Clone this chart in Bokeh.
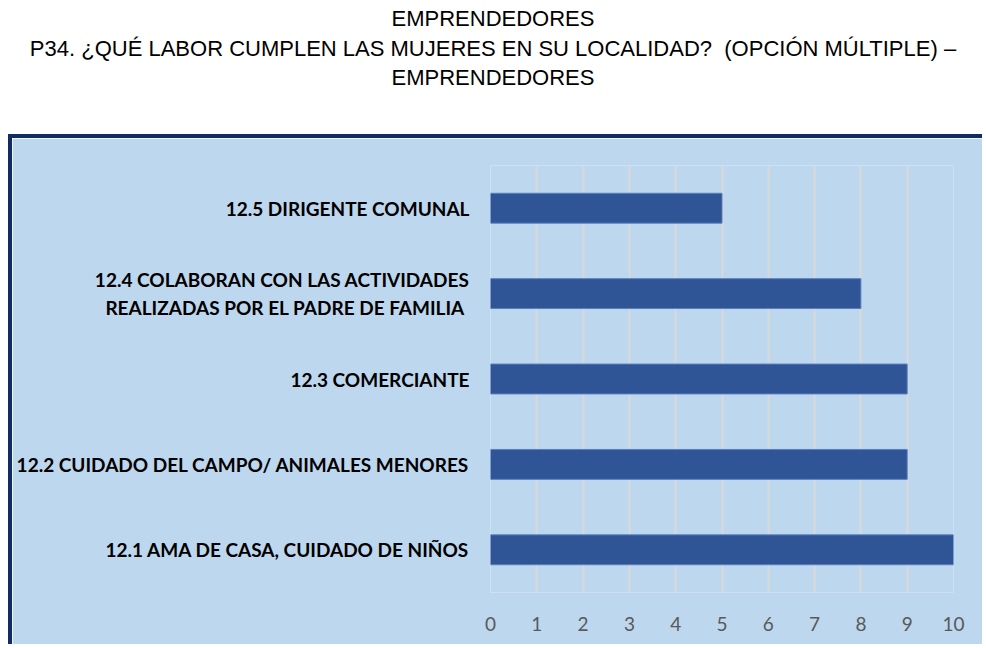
from bokeh.plotting import figure
from bokeh.models import Div, FactorRange, Range1d, FixedTicker, ColumnDataSource
from bokeh.layouts import column
from bokeh.embed import file_html
from bokeh.resources import INLINE

title_lines = [
    "EMPRENDEDORES",
    "P34. ¿QUÉ LABOR CUMPLEN LAS MUJERES EN SU LOCALIDAD?&nbsp; (OPCIÓN MÚLTIPLE) –",
    "EMPRENDEDORES",
]
categories = [
    "12.1 AMA DE CASA, CUIDADO DE NIÑOS",
    "12.2 CUIDADO DEL CAMPO/ ANIMALES MENORES",
    "12.3 COMERCIANTE",
    "12.4 COLABORAN CON LAS ACTIVIDADES\nREALIZADAS POR EL PADRE DE FAMILIA ",
    "12.5 DIRIGENTE COMUNAL",
]
values = [10, 9, 9, 8, 5]
x_ticks = [0, 1, 2, 3, 4, 5, 6, 7, 8, 9, 10]

div = Div(
    text='<div style="padding-top:4px">' + "<br>".join(title_lines) + "</div>",
    width=986, height=134, margin=(0, 0, 0, 0),
    styles={
        "text-align": "center",
        "font-family": "'Liberation Sans', Arial, sans-serif",
        "font-size": "22px",
        "line-height": "29.5px",
        "color": "#000000",
    },
)

src = ColumnDataSource(dict(cat=categories, val=values))

p = figure(
    width=974, height=510,
    y_range=FactorRange(*categories),
    x_range=Range1d(0, 10),
    output_backend="svg", toolbar_location=None,
    min_border_left=478, min_border_right=33,
    min_border_top=27, min_border_bottom=56,
    border_fill_color="#BDD7EE", background_fill_color="#BDD7EE",
    outline_line_color=None,
    styles={"margin-left": "8px",
            "border-top": "4px solid #122B62",
            "border-left": "4px solid #122B62"},
)

p.hbar(y="cat", right="val", left=0, height=0.35, source=src,
       fill_color="#2F5597", line_color="#5B7FBF", line_width=1)

p.xaxis.ticker = FixedTicker(ticks=x_ticks)
p.xaxis.axis_line_color = None
p.xaxis.major_tick_line_color = None
p.xaxis.minor_tick_line_color = None
p.xaxis.major_label_text_font = "Lato"
p.xaxis.major_label_text_font_size = "19px"
p.xaxis.major_label_text_color = "#595959"
p.xaxis.major_label_standoff = 18

p.yaxis.axis_line_color = None
p.yaxis.major_tick_line_color = None
p.yaxis.minor_tick_line_color = None
p.yaxis.major_label_text_font = "Lato"
p.yaxis.major_label_text_font_style = "bold"
p.yaxis.major_label_text_font_size = "19px"
p.yaxis.major_label_text_color = "#000000"
p.yaxis.major_label_standoff = 15

p.xgrid.grid_line_color = "#D9D9D9"
p.xgrid.grid_line_width = 2
p.ygrid.grid_line_color = None

layout = column(div, p, styles={"overflow": "visible"})
open("out.html", "w").write(file_html(layout, INLINE))
